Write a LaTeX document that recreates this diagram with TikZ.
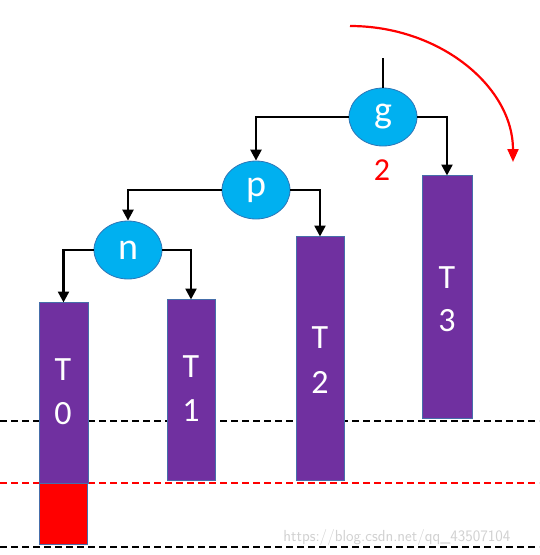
\documentclass[tikz,border=0pt]{standalone}
\usepackage{fontspec}
\setmainfont{Carlito}
\usetikzlibrary{arrows.meta,shapes.geometric}
\definecolor{nodecyan}{RGB}{0,176,240}
\definecolor{nodeedge}{RGB}{46,117,182}
\definecolor{barpurple}{RGB}{112,48,160}
\definecolor{baredge}{RGB}{70,110,170}
\tikzset{
  tnode/.style={ellipse, fill=nodecyan, draw=nodeedge, line width=0.8pt, minimum width=68pt, minimum height=58pt, inner sep=0pt, text=white, font=\fontsize{38}{38}\selectfont},
  bar/.style={fill=barpurple, draw=baredge, line width=0.8pt},
  conn/.style={line width=2.4pt, -{Triangle[length=11pt,width=11pt]}},
  barlbl/.style={text=white, font=\fontsize{34}{34}\selectfont, inner sep=0pt},
  dline/.style={dashed, dash pattern=on 7pt off 4pt, line width=2pt}
}
\begin{document}
\begin{tikzpicture}[x=1pt,y=-1pt]
\useasboundingbox (0,0) rectangle (539,555);
% dashed lines
\draw[dline, black] (0,421) -- (539,421);
\draw[dline, red] (0,483) -- (539,483);
\draw[dline, black] (0,547) -- (539,547);
% bars
\draw[bar] (39,302) rectangle (88,483);
\node (T0) at (63.5,302) {};
\draw[fill=red, draw=baredge, line width=0.8pt] (39,483) rectangle (87,544);
\draw[bar] (167,299) rectangle (215,480);
\node (T1) at (191,299) {};
\draw[bar] (296,236) rectangle (344,480);
\node (T2) at (320,236) {};
\draw[bar] (422,175) rectangle (472,418);
\node (T3) at (447,175) {};
% bar labels
\node[barlbl] at (63,370) {T};
\node[barlbl] at (63,414) {0};
\node[barlbl] at (191,367) {T};
\node[barlbl] at (191,411) {1};
\node[barlbl] at (320,338) {T};
\node[barlbl] at (320,382) {2};
\node[barlbl] at (447,278) {T};
\node[barlbl] at (447,321) {3};
% tree nodes
\node[tnode] (g) at (383,117) {g};
\node[tnode] (p) at (256,190) {p};
\node[tnode] (n) at (128,250) {n};
\coordinate (gtop) at (383,58);
\draw[line width=2.4pt] (g.north) -- (gtop);
% connectors
\draw[conn] (g.west) -| (p.north);
\draw[conn] (g.east) -| ([yshift=-0.5pt]T3.center);
\draw[conn] (p.west) -| (n.north);
\draw[conn] (p.east) -| ([yshift=-0.5pt]T2.center);
\draw[conn] (n.west) -| ([yshift=-0.5pt]T0.center);
\draw[conn] (n.east) -| ([yshift=-0.5pt]T1.center);
% label 2
\node[text=red, font=\fontsize{32}{32}\selectfont] (two) at (382,170) {2};
% red arc
\coordinate (arcstart) at (350,26);
\draw[red, line width=2.2pt, -{Triangle[length=13pt,width=11pt]}] (arcstart) arc[start angle=90, end angle=0, x radius=163pt, y radius=136pt];
% watermark
\node[text=black!18, font=\fontsize{16}{16}\selectfont\sffamily, anchor=east] (wm) at (514,537) {https://blog.csdn.net/qq\_43507104};
\end{tikzpicture}
\end{document}
